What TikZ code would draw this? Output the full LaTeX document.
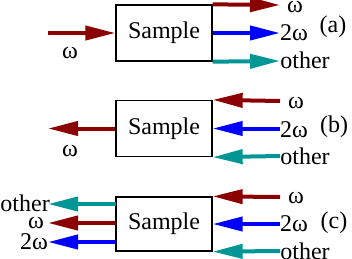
\documentclass[tikz,border=0pt]{standalone}
\usepackage{fontspec}
\setmainfont{Liberation Serif}
\usetikzlibrary{arrows.meta}
\definecolor{dred}{RGB}{139,0,0}
\definecolor{pblue}{RGB}{0,0,255}
\definecolor{pteal}{RGB}{0,150,150}
\begin{document}
\begin{tikzpicture}[x=1pt,y=-1pt,
  samplebox/.style={draw=black,line width=1.3pt,minimum width=96pt,minimum height=56pt,inner sep=0pt,font=\fontsize{24}{28}\selectfont},
  lbl/.style={inner sep=0pt,font=\fontsize{24}{28}\selectfont},
  beam/.style={line width=4pt,-{Triangle[length=30pt,width=14pt]}},
  rb/.style={beam,dred},
  bb/.style={beam,pblue},
  tb/.style={beam,pteal}]
\useasboundingbox (0,0) rectangle (352,258);
% panel (a)
\node[samplebox] (sa) at (164,33) {Sample};
\coordinate (ain) at (48,33);
\coordinate (ao1) at (280,5);
\coordinate (ao2) at (280,33);
\coordinate (ao3) at (280,61);
\draw[rb] (ain) -- (sa.west);
\draw[rb] (sa.north east) -- (ao1);
\draw[bb] (sa.east) -- (ao2);
\draw[tb] (sa.south east) -- (ao3);
\node[lbl] (aw) at (70,53) {ω};
\node[lbl] (aw1) at (295,7) {ω};
\node[lbl] (aw2) at (294,33) {2ω};
\node[lbl] (aw3) at (305,60) {other};
\node[lbl] (alab) at (333,27) {(a)};
% panel (b)
\node[samplebox] (sb) at (164,128.5) {Sample};
\coordinate (bout) at (48,128.5);
\coordinate (bi1) at (280,101);
\coordinate (bi2) at (280,128.5);
\coordinate (bi3) at (280,156);
\draw[rb] (sb.west) -- (bout);
\draw[rb] (bi1) -- (sb.north east);
\draw[bb] (bi2) -- (sb.east);
\draw[tb] (bi3) -- (sb.south east);
\node[lbl] (bw) at (70,151) {ω};
\node[lbl] (bw1) at (296,103) {ω};
\node[lbl] (bw2) at (294,130) {2ω};
\node[lbl] (bw3) at (305,156) {other};
\node[lbl] (blab) at (334,127) {(b)};
% panel (c)
\node[samplebox, minimum height=54pt] (sc) at (164,224) {Sample};
\coordinate (ci1) at (280,197);
\coordinate (ci2) at (280,224);
\coordinate (ci3) at (280,251);
\coordinate (co1s) at (116,204);
\coordinate (co2s) at (116,223);
\coordinate (co3s) at (116,242);
\coordinate (co1) at (48,204);
\coordinate (co2) at (48,223);
\coordinate (co3) at (48,242);
\draw[rb] (ci1) -- (sc.north east);
\draw[bb] (ci2) -- (sc.east);
\draw[tb] (ci3) -- (sc.south east);
\draw[tb] (co1s) -- (co1);
\draw[rb] (co2s) -- (co2);
\draw[bb] (co3s) -- (co3);
\node[lbl,anchor=east] (cwo) at (50,203) {other};
\node[lbl] (cw) at (36,223) {ω};
\node[lbl] (cw2) at (34,242) {2ω};
\node[lbl] (cw1) at (296,198) {ω};
\node[lbl] (cw2r) at (294,224) {2ω};
\node[lbl] (cw3) at (305,251) {other};
\node[lbl] (clab) at (334,223) {(c)};
\end{tikzpicture}
\end{document}
